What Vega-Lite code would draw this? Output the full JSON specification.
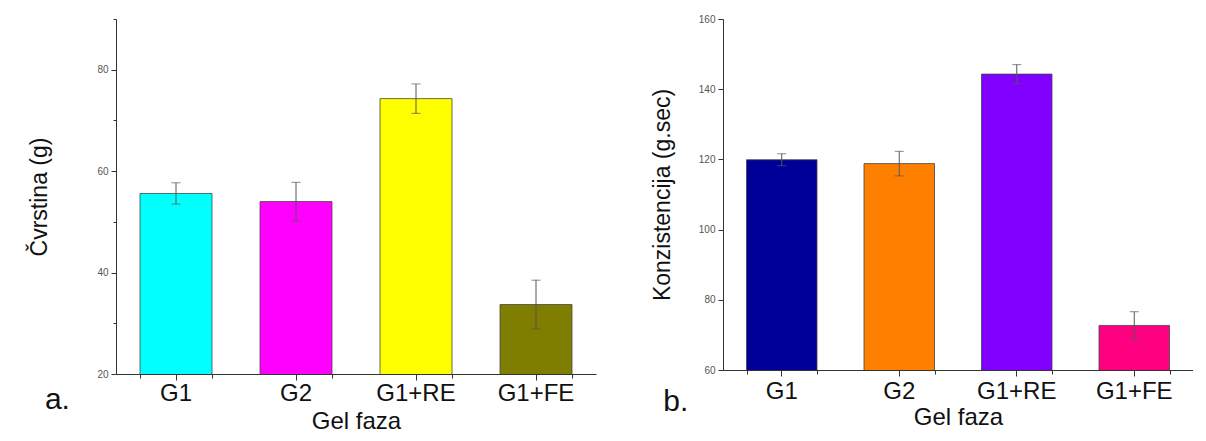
{
  "$schema": "https://vega.github.io/schema/vega-lite/v6.json",
  "background": "white",
  "padding": {"left": 28, "top": 14, "right": 0, "bottom": 0},
  "spacing": 55,
  "config": {
    "font": "Liberation Sans",
    "view": {"stroke": null},
    "axis": {"domainColor": "#333", "tickColor": "#333", "grid": false, "titleFontWeight": "normal", "titleColor": "#111", "labelColor": "#111"}
  },
  "hconcat": [
    {
      "width": 480,
      "height": 355,
      "title": {"text": "a.", "orient": "bottom", "anchor": "start", "frame": "bounds", "fontSize": 30, "fontWeight": "normal", "color": "#111", "dx": 16, "dy": -52},
      "data": {"values": [
        {"faza": "G1", "v": 55.6, "err": 2.1},
        {"faza": "G2", "v": 54.0, "err": 3.8},
        {"faza": "G1+RE", "v": 74.3, "err": 2.9},
        {"faza": "G1+FE", "v": 33.7, "err": 4.8}
      ]},
      "layer": [
        {
          "mark": {"type": "bar", "stroke": "#444", "strokeWidth": 0.8, "clip": true},
          "encoding": {
            "x": {"field": "faza", "type": "nominal", "sort": null,
              "scale": {"paddingInner": 0.4, "paddingOuter": 0.2},
              "axis": {"title": "Gel faza", "orient": "bottom", "labelAngle": 0, "labelFontSize": 24, "titleFontSize": 24, "tickSize": 6, "labelPadding": 1, "titlePadding": 4, "domainWidth": 1.2}},
            "y": {"field": "v", "type": "quantitative", "title": "Čvrstina (g)",
              "scale": {"domain": [20, 90], "nice": false, "zero": false},
              "axis": {"values": [20, 30, 40, 50, 60, 70, 80, 90],
                "labelExpr": "datum.value % 20 === 0 && datum.value < 90 ? datum.label : ''",
                "tickSize": {"condition": {"test": "datum.value % 20 === 0", "value": 5}, "value": 3},
                "labelFontSize": 10, "labelColor": "#555", "titleFontSize": 23, "titlePadding": 45, "labelPadding": 3}},
            "color": {"field": "faza", "type": "nominal", "legend": null,
              "scale": {"domain": ["G1", "G2", "G1+RE", "G1+FE"], "range": ["#00FFFF", "#FF00FF", "#FFFF00", "#807E00"]}}
          }
        },
        {
          "mark": {"type": "errorbar", "ticks": {"size": 9, "color": "#555"}, "rule": {"color": "#555", "strokeWidth": 1}},
          "encoding": {
            "x": {"field": "faza", "type": "nominal", "sort": null,
              "axis": {"orient": "bottom", "tickBand": "extent", "labels": false, "title": null, "domain": false, "tickSize": 4}},
            "y": {"field": "v", "type": "quantitative", "title": "Čvrstina (g)"},
            "yError": {"field": "err"}
          }
        }
      ],
      "resolve": {"axis": {"x": "independent"}}
    },
    {
      "width": 470,
      "height": 351,
      "title": {"text": "b.", "orient": "bottom", "anchor": "start", "frame": "bounds", "fontSize": 30, "fontWeight": "normal", "color": "#111", "dx": 12, "dy": -46},
      "data": {"values": [
        {"faza": "G1", "v": 119.9, "err": 1.7},
        {"faza": "G2", "v": 118.8, "err": 3.5},
        {"faza": "G1+RE", "v": 144.3, "err": 2.7},
        {"faza": "G1+FE", "v": 72.7, "err": 3.9}
      ]},
      "layer": [
        {
          "mark": {"type": "bar", "stroke": "#444", "strokeWidth": 0.8, "clip": true},
          "encoding": {
            "x": {"field": "faza", "type": "nominal", "sort": null,
              "scale": {"paddingInner": 0.4, "paddingOuter": 0.2},
              "axis": {"title": "Gel faza", "orient": "bottom", "labelAngle": 0, "labelFontSize": 24, "titleFontSize": 24, "tickSize": 6, "labelPadding": 3, "titlePadding": 2, "domainWidth": 1.2}},
            "y": {"field": "v", "type": "quantitative", "title": "Konzistencija (g.sec)",
              "scale": {"domain": [60, 160], "nice": false, "zero": false},
              "axis": {"values": [60, 70, 80, 90, 100, 110, 120, 130, 140, 150, 160],
                "labelExpr": "datum.value % 20 === 0 ? datum.label : ''",
                "tickSize": {"condition": {"test": "datum.value % 20 === 0", "value": 5}, "value": 3},
                "labelFontSize": 10, "labelColor": "#555", "titleFontSize": 23, "titlePadding": 24, "labelPadding": 3}},
            "color": {"field": "faza", "type": "nominal", "legend": null,
              "scale": {"domain": ["G1", "G2", "G1+RE", "G1+FE"], "range": ["#000099", "#FF8000", "#8000FF", "#FF0080"]}}
          }
        },
        {
          "mark": {"type": "errorbar", "ticks": {"size": 9, "color": "#555"}, "rule": {"color": "#555", "strokeWidth": 1}},
          "encoding": {
            "x": {"field": "faza", "type": "nominal", "sort": null,
              "axis": {"orient": "bottom", "tickBand": "extent", "labels": false, "title": null, "domain": false, "tickSize": 4}},
            "y": {"field": "v", "type": "quantitative", "title": "Konzistencija (g.sec)"},
            "yError": {"field": "err"}
          }
        }
      ],
      "resolve": {"axis": {"x": "independent"}}
    }
  ],
  "resolve": {"scale": {"color": "independent", "y": "independent", "x": "independent"}}
}
